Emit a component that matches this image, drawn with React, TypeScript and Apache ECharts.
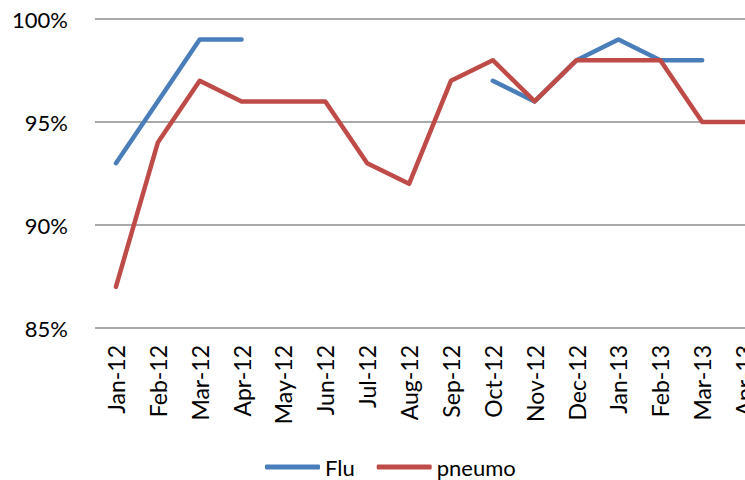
import React, { useEffect, useRef } from "react";
import * as echarts from "echarts";

const categories = [
  "Jan-12", "Feb-12", "Mar-12", "Apr-12", "May-12", "Jun-12", "Jul-12", "Aug-12",
  "Sep-12", "Oct-12", "Nov-12", "Dec-12", "Jan-13", "Feb-13", "Mar-13", "Apr-13",
];
const fluValues: (number | null)[] = [93, 96, 99, 99, null, null, null, null, null, 97, 96, 98, 99, 98, 98, null];
const pneumoValues: (number | null)[] = [87, 94, 97, 96, 96, 96, 93, 92, 97, 98, 96, 98, 98, 98, 95, 95];
const yTicks = { min: 85, max: 100, interval: 5 };

const FONT = "Lato, 'Liberation Sans', sans-serif";

export default function App() {
  const ref = useRef<HTMLDivElement>(null);
  useEffect(() => {
    if (!ref.current) return;
    const chart = echarts.init(ref.current, undefined, { renderer: "svg" });
    chart.setOption({
      animation: false,
      backgroundColor: "#ffffff",
      grid: {
        left: 95,
        top: 19,
        width: 670,
        height: 309,
        containLabel: false,
        outerBoundsMode: "none",
      },
      legend: {
        left: 260,
        top: 451,
        icon: "roundRect",
        itemWidth: 55,
        itemHeight: 5,
        itemGap: 22,
        textStyle: { fontFamily: FONT, fontSize: 22, color: "#000" },
        data: ["Flu", "pneumo"],
      },
      xAxis: {
        type: "category",
        data: categories,
        boundaryGap: true,
        axisLine: { show: false },
        axisTick: { show: false },
        axisLabel: {
          rotate: 90,
          interval: 0,
          margin: 17,
          hideOverlap: false,
          fontFamily: FONT,
          fontSize: 23,
          color: "#000",
        },
      },
      yAxis: {
        type: "value",
        min: yTicks.min,
        max: yTicks.max,
        interval: yTicks.interval,
        axisLine: { show: false },
        axisTick: { show: false },
        splitLine: { lineStyle: { color: "#8c8c8c", width: 1.5 } },
        axisLabel: {
          formatter: "{value}%",
          margin: 27,
          fontFamily: FONT,
          fontSize: 22,
          color: "#000",
        },
      },
      series: [
        {
          name: "Flu",
          type: "line",
          data: fluValues,
          symbol: "none",
          connectNulls: false,
          color: "#4a7ebb",
          lineStyle: { width: 4.5, color: "#4a7ebb", cap: "round", join: "round" },
        },
        {
          name: "pneumo",
          type: "line",
          data: pneumoValues,
          symbol: "none",
          color: "#be4b48",
          lineStyle: { width: 4.5, color: "#be4b48", cap: "round", join: "round" },
        },
      ],
    });
    return () => chart.dispose();
  }, []);
  return (
    <div
      ref={ref}
      style={{ position: "fixed", left: 0, top: 0, width: 745, height: 480, overflow: "hidden" }}
    />
  );
}
